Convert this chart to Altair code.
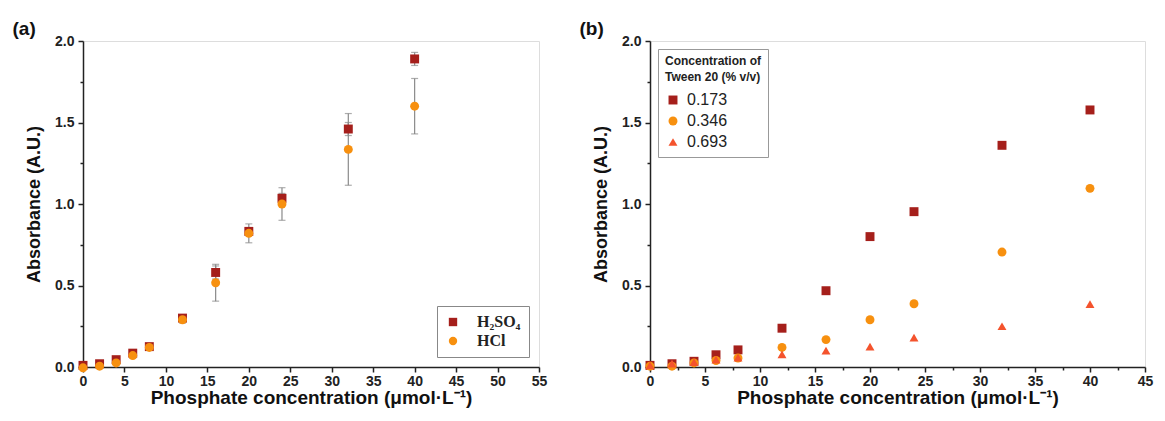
import altair as alt
import pandas as pd

# ---------------- data ----------------
conc = [0, 2, 4, 6, 8, 12, 16, 20, 24, 32, 40]

# panel (a)
h2so4_y = [0.01, 0.02, 0.045, 0.085, 0.125, 0.30, 0.58, 0.832, 1.035, 1.46, 1.89]
h2so4_err = [0.01, 0.01, 0.015, 0.015, 0.015, 0.02, 0.04, 0.02, 0.03, 0.04, 0.04]
hcl_y = [-0.005, 0.005, 0.025, 0.07, 0.12, 0.29, 0.517, 0.82, 1.0, 1.335, 1.60]
hcl_err = [0.01, 0.01, 0.01, 0.015, 0.015, 0.02, 0.113, 0.058, 0.10, 0.22, 0.17]
acid_names = ["H₂SO₄", "HCl"]

# panel (b)
tween_names = ["0.173", "0.346", "0.693"]
t173_y = [0.01, 0.02, 0.035, 0.075, 0.105, 0.238, 0.468, 0.80, 0.953, 1.36, 1.577]
t346_y = [0.005, 0.005, 0.025, 0.04, 0.055, 0.12, 0.168, 0.29, 0.388, 0.705, 1.096]
t693_y = [0.01, 0.02, 0.03, 0.045, 0.058, 0.077, 0.10, 0.125, 0.18, 0.25, 0.385]

x_ticks_a = [i * 2.5 for i in range(23)]   # 0 .. 55, labels every 5
x_ticks_b = [i * 2.5 for i in range(19)]   # 0 .. 45, labels every 5
y_ticks = [0.0, 0.25, 0.5, 0.75, 1.0, 1.25, 1.5, 1.75, 2.0]  # labels every 0.5

# ---------------- tables ----------------
rows_a = []
for name, ys, es in [(acid_names[0], h2so4_y, h2so4_err), (acid_names[1], hcl_y, hcl_err)]:
    for x, y, e in zip(conc, ys, es):
        rows_a.append({"x": x, "y": y, "lo": y - e, "hi": y + e, "series": name})
df_a = pd.DataFrame(rows_a)

rows_b = []
for name, ys in zip(tween_names, [t173_y, t346_y, t693_y]):
    for x, y in zip(conc, ys):
        rows_b.append({"x": x, "y": y, "series": name})
df_b = pd.DataFrame(rows_b)

FONT = "Liberation Sans"
DARK = "#a51f1b"
ORANGE = "#f7900f"
TRI = "#f4532d"
XTITLE = "Phosphate concentration (μmol·L⁻¹)"
PLOT_H = 326


def axis_x(values):
    return alt.Axis(values=values, format="d",
                    labelExpr="datum.value % 5 === 0 ? datum.label : ''",
                    tickSize={"condition": {"test": "datum.value % 5 === 0", "value": 5}, "value": 3},
                    tickWidth=1.5, tickColor="#222",
                    labelFont=FONT, labelFontSize=14, labelFontWeight="bold", labelColor="#222",
                    labelPadding=2, domainColor="#222", domainWidth=1.5, grid=False,
                    title=XTITLE, titleFont=FONT, titleFontSize=19, titleFontWeight="bold",
                    titleColor="#111", titlePadding=0, labelFlush=False, labelOverlap=False)


def axis_y():
    return alt.Axis(values=y_ticks, format=".1f",
                    labelExpr="round(datum.value * 100) % 50 === 0 ? datum.label : ''",
                    tickSize={"condition": {"test": "round(datum.value * 100) % 50 === 0", "value": 5},
                              "value": 3},
                    tickWidth=1.5, tickColor="#222",
                    labelFont=FONT, labelFontSize=14, labelFontWeight="bold", labelColor="#222",
                    labelPadding=4, domainColor="#222", domainWidth=1.5, grid=False,
                    title="Absorbance (A.U.)", titleFont=FONT, titleFontSize=18,
                    titleFontWeight="bold", titleColor="#111", titlePadding=11,
                    labelOverlap=False)


def letter_title(letter):
    return alt.TitleParams(letter, anchor="start", fontSize=19, fontWeight="bold",
                           font=FONT, color="#111", offset=-5, dx=-13)


ys_all = alt.Scale(domain=[0, 2.0], nice=False, zero=False)

# ---------- panel (a) ----------
xs_a = alt.Scale(domain=[0, 55], nice=False, zero=False)

err_rule = alt.Chart(df_a).mark_rule(color="#8a8a8a", strokeWidth=1.2).encode(
    x=alt.X("x:Q", scale=xs_a, axis=axis_x(x_ticks_a)),
    y=alt.Y("lo:Q", scale=ys_all, axis=axis_y()), y2="hi:Q")
cap_lo = alt.Chart(df_a).mark_tick(color="#8a8a8a", orient="horizontal", size=7, thickness=1.2).encode(
    x=alt.X("x:Q", scale=xs_a), y=alt.Y("lo:Q", scale=ys_all))
cap_hi = alt.Chart(df_a).mark_tick(color="#8a8a8a", orient="horizontal", size=7, thickness=1.2).encode(
    x=alt.X("x:Q", scale=xs_a), y=alt.Y("hi:Q", scale=ys_all))

pts_a = alt.Chart(df_a).mark_point(filled=True, opacity=1, size=80).encode(
    x=alt.X("x:Q", scale=xs_a),
    y=alt.Y("y:Q", scale=ys_all),
    color=alt.Color("series:N", scale=alt.Scale(domain=acid_names, range=[DARK, ORANGE]),
                    legend=alt.Legend(orient="bottom-right", title=None, strokeColor="#888",
                                      fillColor="white", padding=8, offset=10, rowPadding=3,
                                      labelFont="Liberation Serif", labelFontSize=16,
                                      labelFontWeight="bold", labelColor="#222", symbolSize=70,
                                      labelOffset=16)),
    shape=alt.Shape("series:N", scale=alt.Scale(domain=acid_names, range=["square", "circle"])),
)

chart_a = alt.layer(err_rule, cap_lo, cap_hi, pts_a).properties(
    width=456, height=PLOT_H, title=letter_title("(a)"))

# ---------- panel (b) ----------
xs_b = alt.Scale(domain=[0, 45], nice=False, zero=False)
pts_b = alt.Chart(df_b).mark_point(filled=True, opacity=1).encode(
    x=alt.X("x:Q", scale=xs_b, axis=axis_x(x_ticks_b)),
    y=alt.Y("y:Q", scale=ys_all, axis=axis_y()),
    color=alt.Color("series:N", scale=alt.Scale(domain=tween_names, range=[DARK, ORANGE, TRI]),
                    legend=alt.Legend(orient="top-left",
                                      title=["Concentration of", "Tween 20 (% v/v)"],
                                      titleFont=FONT, titleFontSize=12, titleFontWeight="bold",
                                      titleColor="#222", titlePadding=8, titleLineHeight=16,
                                      strokeColor="#999", fillColor="white", padding=7,
                                      offset=8, rowPadding=5,
                                      labelFont=FONT, labelFontSize=16, labelColor="#222",
                                      symbolSize=70, labelOffset=6)),
    shape=alt.Shape("series:N", scale=alt.Scale(domain=tween_names,
                                                range=["square", "circle", "triangle-up"])),
    size=alt.Size("series:N", scale=alt.Scale(domain=tween_names, range=[80, 80, 120]),
                  legend=None),
)

chart_b = alt.layer(pts_b).properties(width=495, height=PLOT_H, title=letter_title("(b)"))

chart = alt.hconcat(chart_a, chart_b, spacing=31).resolve_scale(
    color="independent", shape="independent", size="independent"
).properties(
    padding={"left": 4, "top": 11, "right": 0, "bottom": 0}
).configure_view(stroke="#222", strokeWidth=1.5).configure(background="white")

chart.save("out.html", embed_options={"renderer": "svg", "actions": False})
